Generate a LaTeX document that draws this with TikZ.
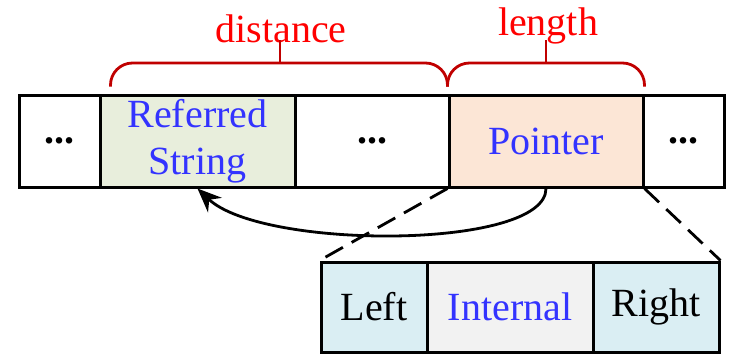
\documentclass[tikz,border=0pt]{standalone}
\usepackage{fontspec}
\setmainfont{Liberation Serif}
\usetikzlibrary{arrows.meta}
\definecolor{refgreen}{HTML}{E8EEDC}
\definecolor{ptrorange}{HTML}{FCE6D6}
\definecolor{sideblue}{HTML}{DAEEF3}
\definecolor{midgrey}{HTML}{F2F2F2}
\definecolor{textblue}{HTML}{3333FF}
\definecolor{bracered}{HTML}{C00000}
\tikzset{
  cell/.style={draw, line width=3pt, inner sep=0pt, minimum height=92pt, align=center},
  part/.style={cell, minimum height=90pt},
  brace/.style={draw=bracered, line width=2.8pt, rounded corners=22pt},
  bracestub/.style={draw=bracered, line width=2.8pt},
  bracetext/.style={anchor=base, text=red, inner sep=0pt},
  dashline/.style={line width=2.8pt, dash pattern=on 20pt off 10pt}
}
\begin{document}
\begin{tikzpicture}[x=1pt, y=1pt, font=\fontsize{40}{47}\selectfont]
\useasboundingbox (0,0) rectangle (730,-354);
\node[cell, minimum width=81pt] (dotsa) at (59.5,-141) {\textbf{...}};
\node[cell, fill=refgreen, text=textblue, minimum width=195pt] (ref) at (197.5,-141) {Referred\\String};
\node[cell, minimum width=154pt] (dotsb) at (372,-141) {\textbf{...}};
\node[cell, fill=ptrorange, text=textblue, minimum width=194pt] (ptr) at (546,-141) {Pointer};
\node[cell, minimum width=81pt] (dotsc) at (683.5,-141) {\textbf{...}};
\node[part, fill=sideblue, minimum width=106pt] (left) at (374,-307) {Left};
\node[part, fill=midgrey, text=textblue, minimum width=166pt] (internal) at (510,-307) {Internal};
\node[part, fill=sideblue, minimum width=126pt] (right) at (656,-307) {Right};
\node[bracetext] (distance) at (281,-42) {distance};
\node[bracetext] (length) at (548,-35) {length};
\coordinate (disttip) at (280,-63);
\coordinate (lentip) at (546,-63);
\draw[brace] ([xshift=12pt,yshift=7pt]ref.north west) |- (disttip) -| ([yshift=7pt]ptr.north west);
\draw[bracestub] (disttip) -- ++(0,23pt);
\draw[brace] ([yshift=7pt]ptr.north west) |- (lentip) -| ([yshift=7pt]ptr.north east);
\draw[bracestub] (lentip) -- ++(0,23pt);
\draw[dashline] (ptr.south west) -- (left.north west);
\draw[dashline] (ptr.south east) -- (right.north east);
\draw[line width=2.8pt, -{Stealth[length=24pt,width=20pt]}] (ptr.south) .. controls (546,-250) and (262,-250) .. (ref.south);
\end{tikzpicture}
\end{document}
